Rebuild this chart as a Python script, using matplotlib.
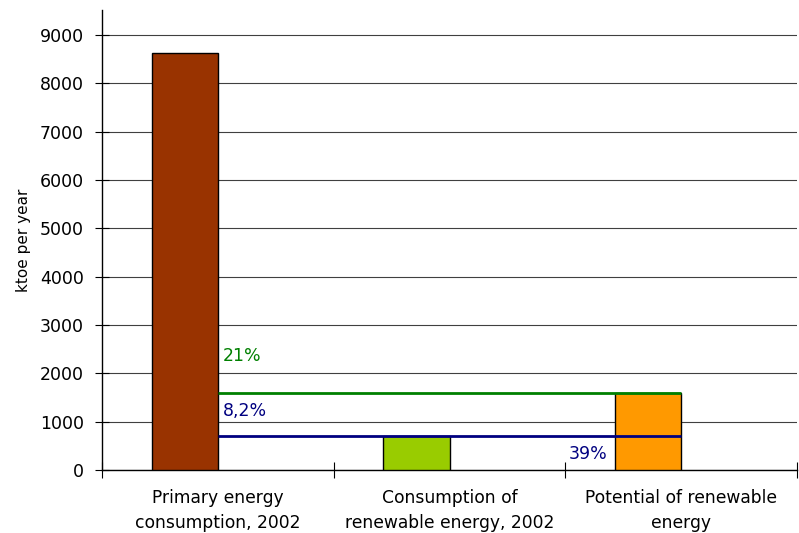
import matplotlib
matplotlib.use("Agg")
import matplotlib.pyplot as plt

plt.rcParams['font.family'] = ['DejaVu Sans']

categories = ["Primary energy\nconsumption, 2002",
              "Consumption of\nrenewable energy, 2002",
              "Potential of renewable\nenergy"]
values = [8640, 710, 1590]
bar_colors = ["#993300", "#99CC00", "#FF9900"]

# reference levels drawn across the categories
potential_level = [1590, 1590, 1590]
consumption_level = [710, 710, 710]

share_labels = ["21%", "8,2%", "39%"]

fig = plt.figure(figsize=(7.99, 5.33), dpi=100)
ax = fig.add_axes([102/799, 63/533, 695/799, 460/533])

centers = [i + 0.5 for i in range(len(categories))]
bw = 0.285
ax.bar([c - bw / 2 for c in centers], values, width=bw, color=bar_colors,
       edgecolor="black", linewidth=1, zorder=3)

ax.plot(centers, potential_level, color="#008000", lw=2, zorder=4, solid_capstyle="butt")
ax.plot(centers, consumption_level, color="#000080", lw=2, zorder=4, solid_capstyle="butt")

ax.text(0.52, 2350, share_labels[0], color="#008000", fontsize=12.5, va="center", ha="left")
ax.text(0.52, 1230, share_labels[1], color="#000080", fontsize=12.5, va="center", ha="left")
ax.text(2.18, 330, share_labels[2], color="#000080", fontsize=12.5, va="center", ha="right")

ax.set_xlim(0, 3)
ax.set_ylim(0, 9520)
ax.set_yticks(range(0, 9001, 1000))
ax.yaxis.grid(True, color="#404040", lw=0.8, zorder=0)
ax.set_axisbelow(True)

ax.set_xticks([0, 1, 2, 3])
ax.set_xticklabels([])
ax.set_xticks(centers, minor=True)
ax.set_xticklabels(categories, minor=True, fontsize=12.3, linespacing=1.45)
ax.tick_params(axis="x", which="major", direction="inout", length=12, width=0.8)
ax.tick_params(axis="x", which="minor", length=0, pad=14)
ax.tick_params(axis="y", direction="inout", length=10, width=0.8, labelsize=12.5, pad=8)

ax.set_ylabel("ktoe per year", fontsize=11, labelpad=6)

ax.spines["top"].set_visible(False)
ax.spines["right"].set_visible(False)
for s in ("left", "bottom"):
    ax.spines[s].set_linewidth(1)

fig.savefig("out.png", dpi=100)
